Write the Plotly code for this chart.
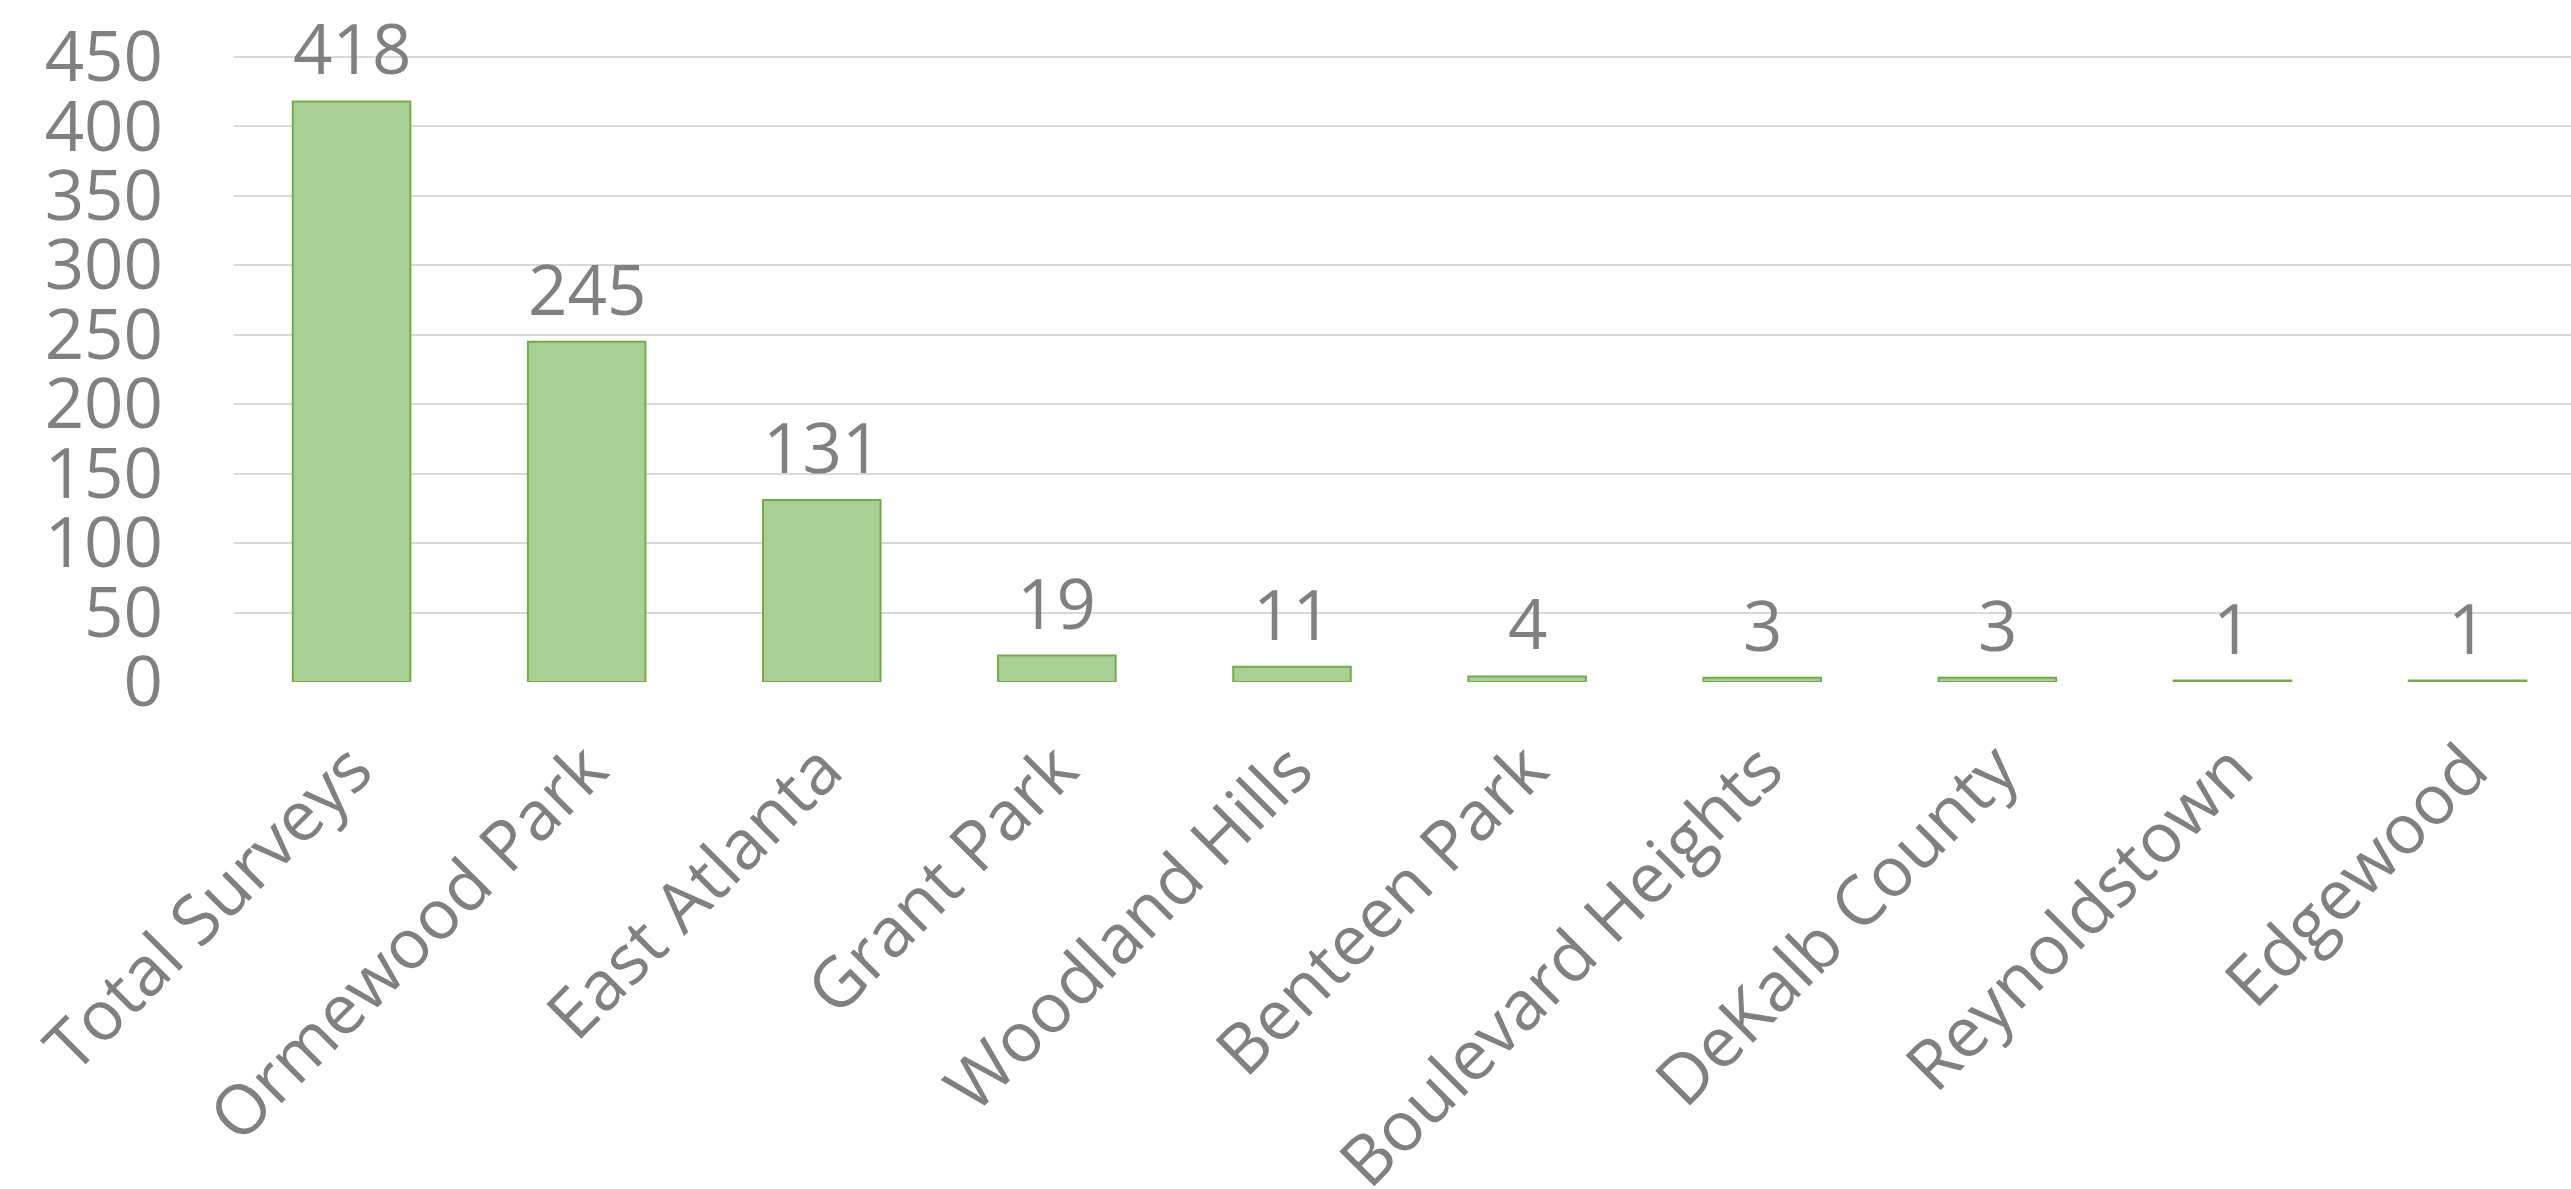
import plotly.graph_objects as go

categories = ["Total Surveys", "Ormewood Park", "East Atlanta", "Grant Park", "Woodland Hills",
              "Benteen Park", "Boulevard Heights", "DeKalb County", "Reynoldstown", "Edgewood"]
values = [418, 245, 131, 19, 11, 4, 3, 3, 1, 1]
y_ticks = [0, 50, 100, 150, 200, 250, 300, 350, 400, 450]

FONT = "Open Sans"
GRAY = "#808080"
SIZE = 69

fig = go.Figure()
fig.add_trace(go.Bar(
    x=categories, y=values,
    width=0.5,
    marker=dict(color="#a8cf94", line=dict(color="#70ad47", width=2)),
    hoverinfo="skip",
))

for c, v in zip(categories, values):
    fig.add_annotation(x=c, y=v, text=str(v), showarrow=False,
                       yanchor="middle", yshift=54,
                       font=dict(family=FONT, size=SIZE, color=GRAY))

fig.update_layout(
    width=2571, height=1189,
    margin=dict(l=234, r=0, t=50, b=507, autoexpand=False),
    paper_bgcolor="white", plot_bgcolor="white",
    showlegend=False,
    font=dict(family=FONT, color=GRAY),
    xaxis=dict(range=[-0.5, 9.44], tickangle=-45, showgrid=False, zeroline=False,
               showline=False, ticks="", tickfont=dict(family=FONT, size=SIZE, color=GRAY),
               automargin=False, ticklabelstandoff=32),
    yaxis=dict(range=[0, 455], tickvals=y_ticks, showgrid=True, gridcolor="#d9d9d9",
               gridwidth=2, zeroline=False, showline=False, ticks="",
               tickfont=dict(family=FONT, size=SIZE, color=GRAY), automargin=False,
               ticklabelstandoff=70),
)

fig.write_html("out.html",
               config={"displayModeBar": False},
               post_script="document.body.style.margin='0';document.body.style.overflow='hidden';")
